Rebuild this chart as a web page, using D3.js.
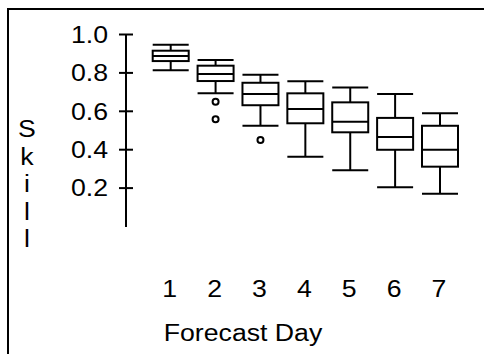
<!DOCTYPE html>
<html lang="en">
<head>
<meta charset="utf-8">
<title>Skill by forecast day</title>
<script src="https://d3js.org/d3.v7.min.js"></script>
<style>
  body { margin: 0; background: #fff; }
  svg text { font-family: "Liberation Sans", Arial, sans-serif; fill: #000; }
</style>
</head>
<body>
<script>
// values
var days = [1, 2, 3, 4, 5, 6, 7];
var whiskerHigh = [0.944, 0.865, 0.788, 0.754, 0.722, 0.688, 0.587];
var q3 = [0.913, 0.835, 0.746, 0.691, 0.644, 0.563, 0.522];
var median = [0.885, 0.792, 0.688, 0.609, 0.543, 0.464, 0.397];
var q1 = [0.859, 0.755, 0.629, 0.535, 0.488, 0.397, 0.309];
var whiskerLow = [0.811, 0.691, 0.522, 0.361, 0.290, 0.202, 0.168];
var outliers = [[], [0.647, 0.556], [0.448], [], [], [], []];
var yTicks = [0.2, 0.4, 0.6, 0.8, 1.0];

var width = 484, height = 354,
    fontSize = 23, stretch = 1.16;

var svg = d3.select("body").append("svg")
    .attr("width", width)
    .attr("height", height);

// frame (only left and top edges show)
svg.append("path")
    .attr("d", "M8," + (height + 5) + "V9H" + (width + 5))
    .attr("fill", "none")
    .attr("stroke", "#000")
    .attr("stroke-width", 2);

var y = d3.scaleLinear().domain([0, 1]).range([226, 34]);
var x = d3.scalePoint().domain(days).range([170.7, 440]);
var boxW = 36;

// y axis
var yAxis = svg.append("g")
    .attr("transform", "translate(126,0)")
    .call(d3.axisLeft(y).tickValues(yTicks).tickFormat(d3.format(".1f")).tickSize(7));

yAxis.select(".domain").remove();
yAxis.append("line")
    .attr("y1", y(1)).attr("y2", y(0) + 1)
    .attr("stroke", "#000").attr("stroke-width", 2);
yAxis.selectAll(".tick line")
    .attr("x1", -7).attr("x2", 7)
    .attr("stroke-width", 2);
yAxis.selectAll(".tick text")
    .attr("x", -18 / stretch)
    .attr("dy", "0.36em")
    .attr("transform", "scale(" + stretch + ",1)")
    .attr("font-size", fontSize)
    .attr("font-family", null);

// y label, one letter per line
svg.append("g").selectAll("text")
    .data("Skill".split(""))
    .join("text")
    .attr("transform", function(d, i) { return "translate(27," + (137 + i * 27.5) + ")scale(" + stretch + ",1)"; })
    .attr("text-anchor", "middle")
    .attr("font-size", fontSize)
    .text(function(d) { return d; });

// x tick labels
svg.append("g").selectAll("text")
    .data(days)
    .join("text")
    .attr("transform", function(d) { return "translate(" + (x(d) - 1) + ",297)scale(" + stretch + ",1)"; })
    .attr("text-anchor", "middle")
    .attr("font-size", fontSize)
    .text(function(d) { return d; });

svg.append("text")
    .attr("transform", "translate(243,341)scale(" + stretch + ",1)")
    .attr("text-anchor", "middle")
    .attr("font-size", fontSize)
    .text("Forecast Day");

// boxes
var box = svg.append("g")
    .attr("fill", "none")
    .attr("stroke", "#000")
    .attr("stroke-width", 2)
  .selectAll("g")
  .data(days)
  .join("g")
    .attr("transform", function(d) { return "translate(" + x(d) + ",0)"; });

box.append("line") // upper whisker
    .attr("y1", function(d, i) { return y(whiskerHigh[i]); })
    .attr("y2", function(d, i) { return y(q3[i]); });
box.append("line") // lower whisker
    .attr("y1", function(d, i) { return y(q1[i]); })
    .attr("y2", function(d, i) { return y(whiskerLow[i]); });
box.append("line")
    .attr("x1", -boxW / 2).attr("x2", boxW / 2)
    .attr("y1", function(d, i) { return y(whiskerHigh[i]); })
    .attr("y2", function(d, i) { return y(whiskerHigh[i]); });
box.append("line")
    .attr("x1", -boxW / 2).attr("x2", boxW / 2)
    .attr("y1", function(d, i) { return y(whiskerLow[i]); })
    .attr("y2", function(d, i) { return y(whiskerLow[i]); });
box.append("rect")
    .attr("x", -boxW / 2).attr("width", boxW)
    .attr("y", function(d, i) { return y(q3[i]); })
    .attr("height", function(d, i) { return y(q1[i]) - y(q3[i]); });
box.append("line")
    .attr("x1", -boxW / 2).attr("x2", boxW / 2)
    .attr("y1", function(d, i) { return y(median[i]); })
    .attr("y2", function(d, i) { return y(median[i]); });

box.selectAll("circle")
    .data(function(d, i) { return outliers[i]; })
    .join("circle")
    .attr("cy", function(v) { return y(v); })
    .attr("r", 3);
</script>
</body>
</html>
